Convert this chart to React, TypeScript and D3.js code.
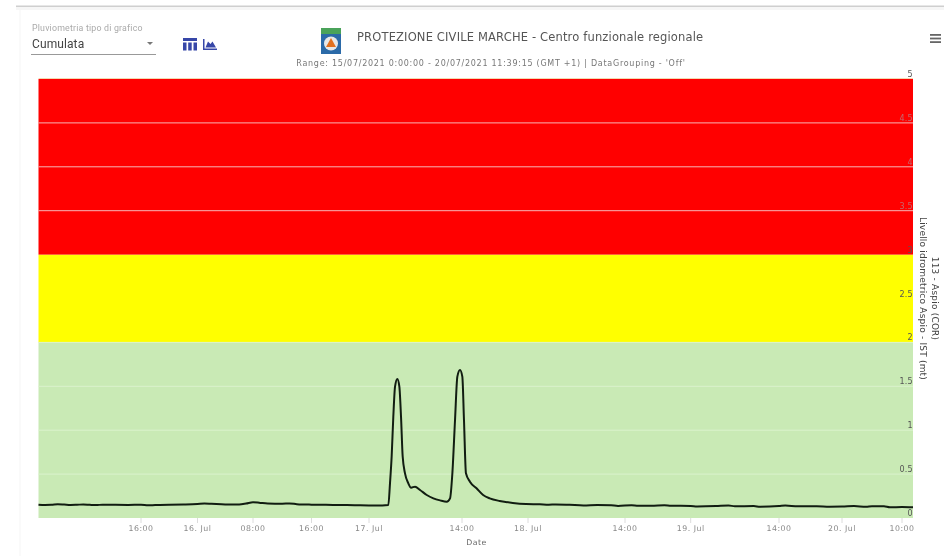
import React from "react";
import * as d3 from "d3";

const hours = [0,1,2,3,4,5,6,7,8,9,10,12,14,16,17,18,20,22,24,25,26,28,30,31,32,33,34,36,37,38,40,42,44,46,48,50,50.91,51.16,51.41,51.66,51.92,52.27,52.57,52.82,53.07,53.42,53.92,54.33,54.93,55.68,56.69,57.69,58.7,59.7,60.2,60.55,60.95,61.3,61.7,62.05,62.3,62.6,63.2,64.2,65.2,66.2,67.7,69.7,71.7,73.7,75,76,78,80,82,84,85,87,88,90,92,93,96,97,100,102,103,106,107,110,111,113,116,118,120,122,124,125,127,128,130,131.65];
const levels = [.152,.149,.15,.156,.153,.149,.151,.154,.15,.147,.152,.15,.149,.151,.145,.147,.15,.154,.16,.165,.162,.155,.155,.165,.18,.172,.165,.163,.166,.158,.152,.15,.148,.146,.143,.143,.148,.395,.7,1.154,1.496,1.583,1.496,1.154,.7,.509,.395,.345,.357,.319,.262,.224,.201,.186,.224,.509,1.116,1.61,1.686,1.61,1.116,.509,.414,.338,.262,.224,.194,.171,.159,.156,.152,.155,.15,.143,.149,.145,.138,.146,.14,.14,.146,.14,.138,.132,.136,.142,.134,.136,.128,.136,.142,.133,.134,.129,.13,.136,.128,.135,.133,.122,.125,.122];

const xTickHours = [16,24,32,40,48,62,72,86,96,110,120,130];
const xTickLabels = ["16:00","16. Jul","08:00","16:00","17. Jul","14:00","18. Jul","14:00","19. Jul","14:00","20. Jul","10:00"];
// The source axis is ordinal, so hours do not map evenly: these are its knots.
const axisHours = [0,16,24,32,40,48,62,72,86,96,110,120,130,131.65];
const axisPixels = [38.5,141,197.5,253,311.5,369,462,528,625,690.7,779,842,902,913];

const yTicks = [0,0.5,1,1.5,2,2.5,3,3.5,4,4.5,5];
const bandFrom = [0,2,3];
const bandTo = [2,3,5];
const bandColors = ["#c9eab5","#ffff00","#ff0000"];

const title = "PROTEZIONE CIVILE MARCHE - Centro funzionale regionale";
const subtitle = "Range: 15/07/2021 0:00:00 - 20/07/2021 11:39:15 (GMT +1) | DataGrouping - 'Off'";
const seriesTitle = "113 - Aspio (COR)";
const yTitle = "Livello idrometrico Aspio - IST (mt)";

const x = d3.scaleLinear().domain(axisHours).range(axisPixels);
const y = d3.scaleLinear().domain([0, 5]).range([518, 79]);
const SANS = "'DejaVu Sans', sans-serif";

export default function App() {
  const line = d3.line<number>().x((_, i) => x(hours[i])).y(d => y(d)).curve(d3.curveMonotoneX);
  const gridColor = (v: number) => (v > 3 ? "#f6b6b6" : v > 2 ? "none" : "#dbf2cd");
  const labelColor = (v: number) => (v > 3 && v < 5 ? "#c4686e" : "#555");
  return (
    <svg width={944} height={556} style={{ position: "fixed", left: 0, top: 0, background: "#fff", filter: "blur(0.35px)" }}>
      <rect x={16} y={5.5} width={928} height={1.5} fill="#cfcfcf" />
      <rect x={16} y={7} width={928} height={3} fill="#f6f6f6" />
      <rect x={19.5} y={7} width={1} height={549} fill="#f5f5f5" />

      {/* select control */}
      <text x={32} y={31} fontFamily="Roboto" fontSize={8.8} letterSpacing={0.2} fill="#aaa">Pluviometria tipo di grafico</text>
      <text x={32} y={48} fontFamily="Roboto" fontSize={12} letterSpacing={0.1} fill="#444">Cumulata</text>
      <path d="M147 42 h6 l-3 3 z" fill="#777" />
      <rect x={31} y={54} width={125} height={1} fill="#999" />

      {/* table icon */}
      <g fill="#3747a8">
        <rect x={183} y={38} width={14} height={3} />
        <rect x={183} y={42.5} width={3.5} height={8} />
        <rect x={188.2} y={42.5} width={3.5} height={8} />
        <rect x={193.5} y={42.5} width={3.5} height={8} />
      </g>
      {/* area chart icon */}
      <path d="M203 39 v11 h14 v-1.5 h-12.5 v-9.5 z" fill="#3747a8" />
      <path d="M205.5 47.5 l2.5 -6 l2.5 2.5 l2 -2.5 l3.5 6 z" fill="#3747a8" />

      {/* logo */}
      <rect x={321} y={28} width={20} height={26} fill="#2b6aa8" />
      <rect x={321} y={28} width={20} height={6} fill="#4aa35a" />
      <circle cx={331} cy={43.5} r={7} fill="#e8e8e8" />
      <path d="M331 38 l5 9 h-10 z" fill="#e2701f" />

      <text x={357} y={41} fontFamily={SANS} fontSize={11.5} letterSpacing={0.16} fill="#555">{title}</text>
      <text x={491} y={66} textAnchor="middle" fontFamily={SANS} fontSize={8} letterSpacing={0.73} fill="#777">{subtitle}</text>

      {/* menu */}
      <g fill="#666">
        <rect x={930} y={34} width={11} height={1.8} />
        <rect x={930} y={37.6} width={11} height={1.8} />
        <rect x={930} y={41.2} width={11} height={1.8} />
      </g>

      {/* bands */}
      {bandFrom.map((b, i) => (
        <rect key={i} x={axisPixels[0]} width={axisPixels[axisPixels.length - 1] - axisPixels[0]} y={y(bandTo[i])} height={y(bandFrom[i]) - y(bandTo[i])} fill={bandColors[i]} />
      ))}
      {yTicks.filter(v => v > 0 && v < 5).map(v => (
        <line key={v} x1={axisPixels[0]} x2={axisPixels[axisPixels.length - 1]} y1={y(v)} y2={y(v)} stroke={gridColor(v)} strokeWidth={1} />
      ))}
      <line x1={axisPixels[0]} x2={913} y1={78.5} y2={78.5} stroke="#f3d9b0" />

      <path d={line(levels) || ""} fill="none" stroke="#111d11" strokeWidth={2} strokeLinejoin="round" />

      {/* y labels */}
      {yTicks.map(v => (
        <text key={v} x={913} y={y(v) - 2} textAnchor="end" fontFamily={SANS} fontSize={8} letterSpacing={0.3} fill={labelColor(v)}>{v}</text>
      ))}

      {/* x axis */}
      {xTickHours.map((h, i) => (
        <g key={h}>
          <line x1={x(h)} x2={x(h)} y1={518} y2={523} stroke="#dcdcdc" />
          <text x={x(h)} y={531} textAnchor="middle" fontFamily={SANS} fontSize={7.8} letterSpacing={0.55} fill="#888">{xTickLabels[i]}</text>
        </g>
      ))}
      <text x={476.5} y={545} textAnchor="middle" fontFamily={SANS} fontSize={7.8} letterSpacing={0.5} fill="#666">Date</text>

      {/* right titles */}
      <text transform="translate(935,298.5) rotate(90)" dy="0.35em" textAnchor="middle" fontFamily={SANS} fontSize={8.8} letterSpacing={0.3} fill="#444">{seriesTitle}</text>
      <text transform="translate(923,298.5) rotate(90)" dy="0.35em" textAnchor="middle" fontFamily={SANS} fontSize={9} letterSpacing={0.2} fill="#444">{yTitle}</text>
    </svg>
  );
}
